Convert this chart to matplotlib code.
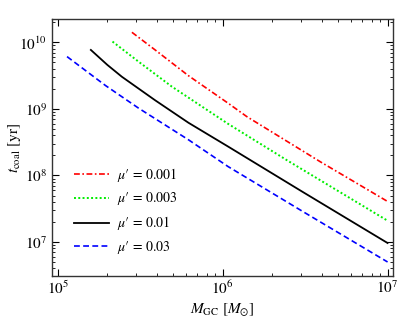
import matplotlib
matplotlib.use("Agg")
import matplotlib.pyplot as plt
from matplotlib.ticker import LogLocator, NullFormatter

plt.rcParams['mathtext.fontset'] = 'stix'
plt.rcParams['font.family'] = ['STIXGeneral', 'DejaVu Serif']

# Data (M_GC in M_sun, t_coal in yr)
labels = ["$\\mu$\u2032 = 0.001", "$\\mu$\u2032 = 0.003", "$\\mu$\u2032 = 0.01", "$\\mu$\u2032 = 0.03"]

red_M = [2.82e5, 3.90e5, 6.21e5, 1.08e6, 1.40e6, 3.89e6, 1.0e7]
red_t = [1.42e10, 7.71e9, 3.16e9, 1.22e9, 7.69e8, 1.62e8, 4.07e7]

green_M = [2.15e5, 3.09e5, 4.92e5, 7.48e5, 1.08e6, 2.45e6, 1.0e7]
green_t = [1.03e10, 5.15e9, 2.17e9, 1.09e9, 5.97e8, 1.70e8, 2.09e7]

black_M = [1.59e5, 2.00e5, 2.45e5, 3.90e5, 6.21e5, 1.08e6, 3.08e6, 1.0e7]
black_t = [7.71e9, 4.6e9, 3.05e9, 1.35e9, 6.2e8, 2.72e8, 5.6e7, 9.66e6]

blue_M = [1.14e5, 1.95e5, 3.09e5, 6.21e5, 1.08e6, 3.08e6, 1.0e7]
blue_t = [6.12e9, 2.25e9, 1.03e9, 3.44e8, 1.36e8, 2.85e7, 5.01e6]

fig = plt.figure(figsize=(3.99, 3.19), dpi=100)
ax = fig.add_axes([0.130, 0.135, 0.855, 0.805])

ax.plot(red_M, red_t, color='red', ls=(0, (3.5, 1.5, 1, 1.5)), lw=1.2, label=labels[0])
ax.plot(green_M, green_t, color='#00ee00', ls=(0, (1, 1.2)), lw=1.4, label=labels[1])
ax.plot(black_M, black_t, color='black', ls='-', lw=1.3, label=labels[2])
ax.plot(blue_M, blue_t, color='blue', ls=(0, (3.5, 2)), lw=1.2, label=labels[3])

ax.set_xscale('log')
ax.set_yscale('log')
ax.set_xlim(10**4.965, 10**7.033)
ax.set_ylim(10**6.49, 10**10.35)

for axis in (ax.xaxis, ax.yaxis):
    axis.set_major_locator(LogLocator(base=10, numticks=20))
    axis.set_minor_locator(LogLocator(base=10, subs=range(2, 10), numticks=50))
    axis.set_minor_formatter(NullFormatter())

ax.tick_params(which='both', direction='in', top=True, right=True, labelsize=11)
ax.tick_params(which='major', length=5, width=0.8)
ax.tick_params(which='minor', length=2.5, width=0.6)
ax.tick_params(axis='x', which='major', pad=2.5)
for s in ax.spines.values():
    s.set_linewidth(1.0)
    s.set_color('#333333')

ax.set_xlabel(r'$M_{\rm GC}\ [M_{\odot}]$', fontsize=11, labelpad=3)
ax.set_ylabel(r'$t_{\rm coal}\ [{\rm yr}]$', fontsize=11, labelpad=-3)

leg = ax.legend(loc='upper left', bbox_to_anchor=(0.065, 0.43), frameon=False,
                fontsize=10, handlelength=2.5, labelspacing=0.5, handletextpad=0.6,
                borderaxespad=0.0, borderpad=0.0)

fig.savefig('out.png', dpi=100)
